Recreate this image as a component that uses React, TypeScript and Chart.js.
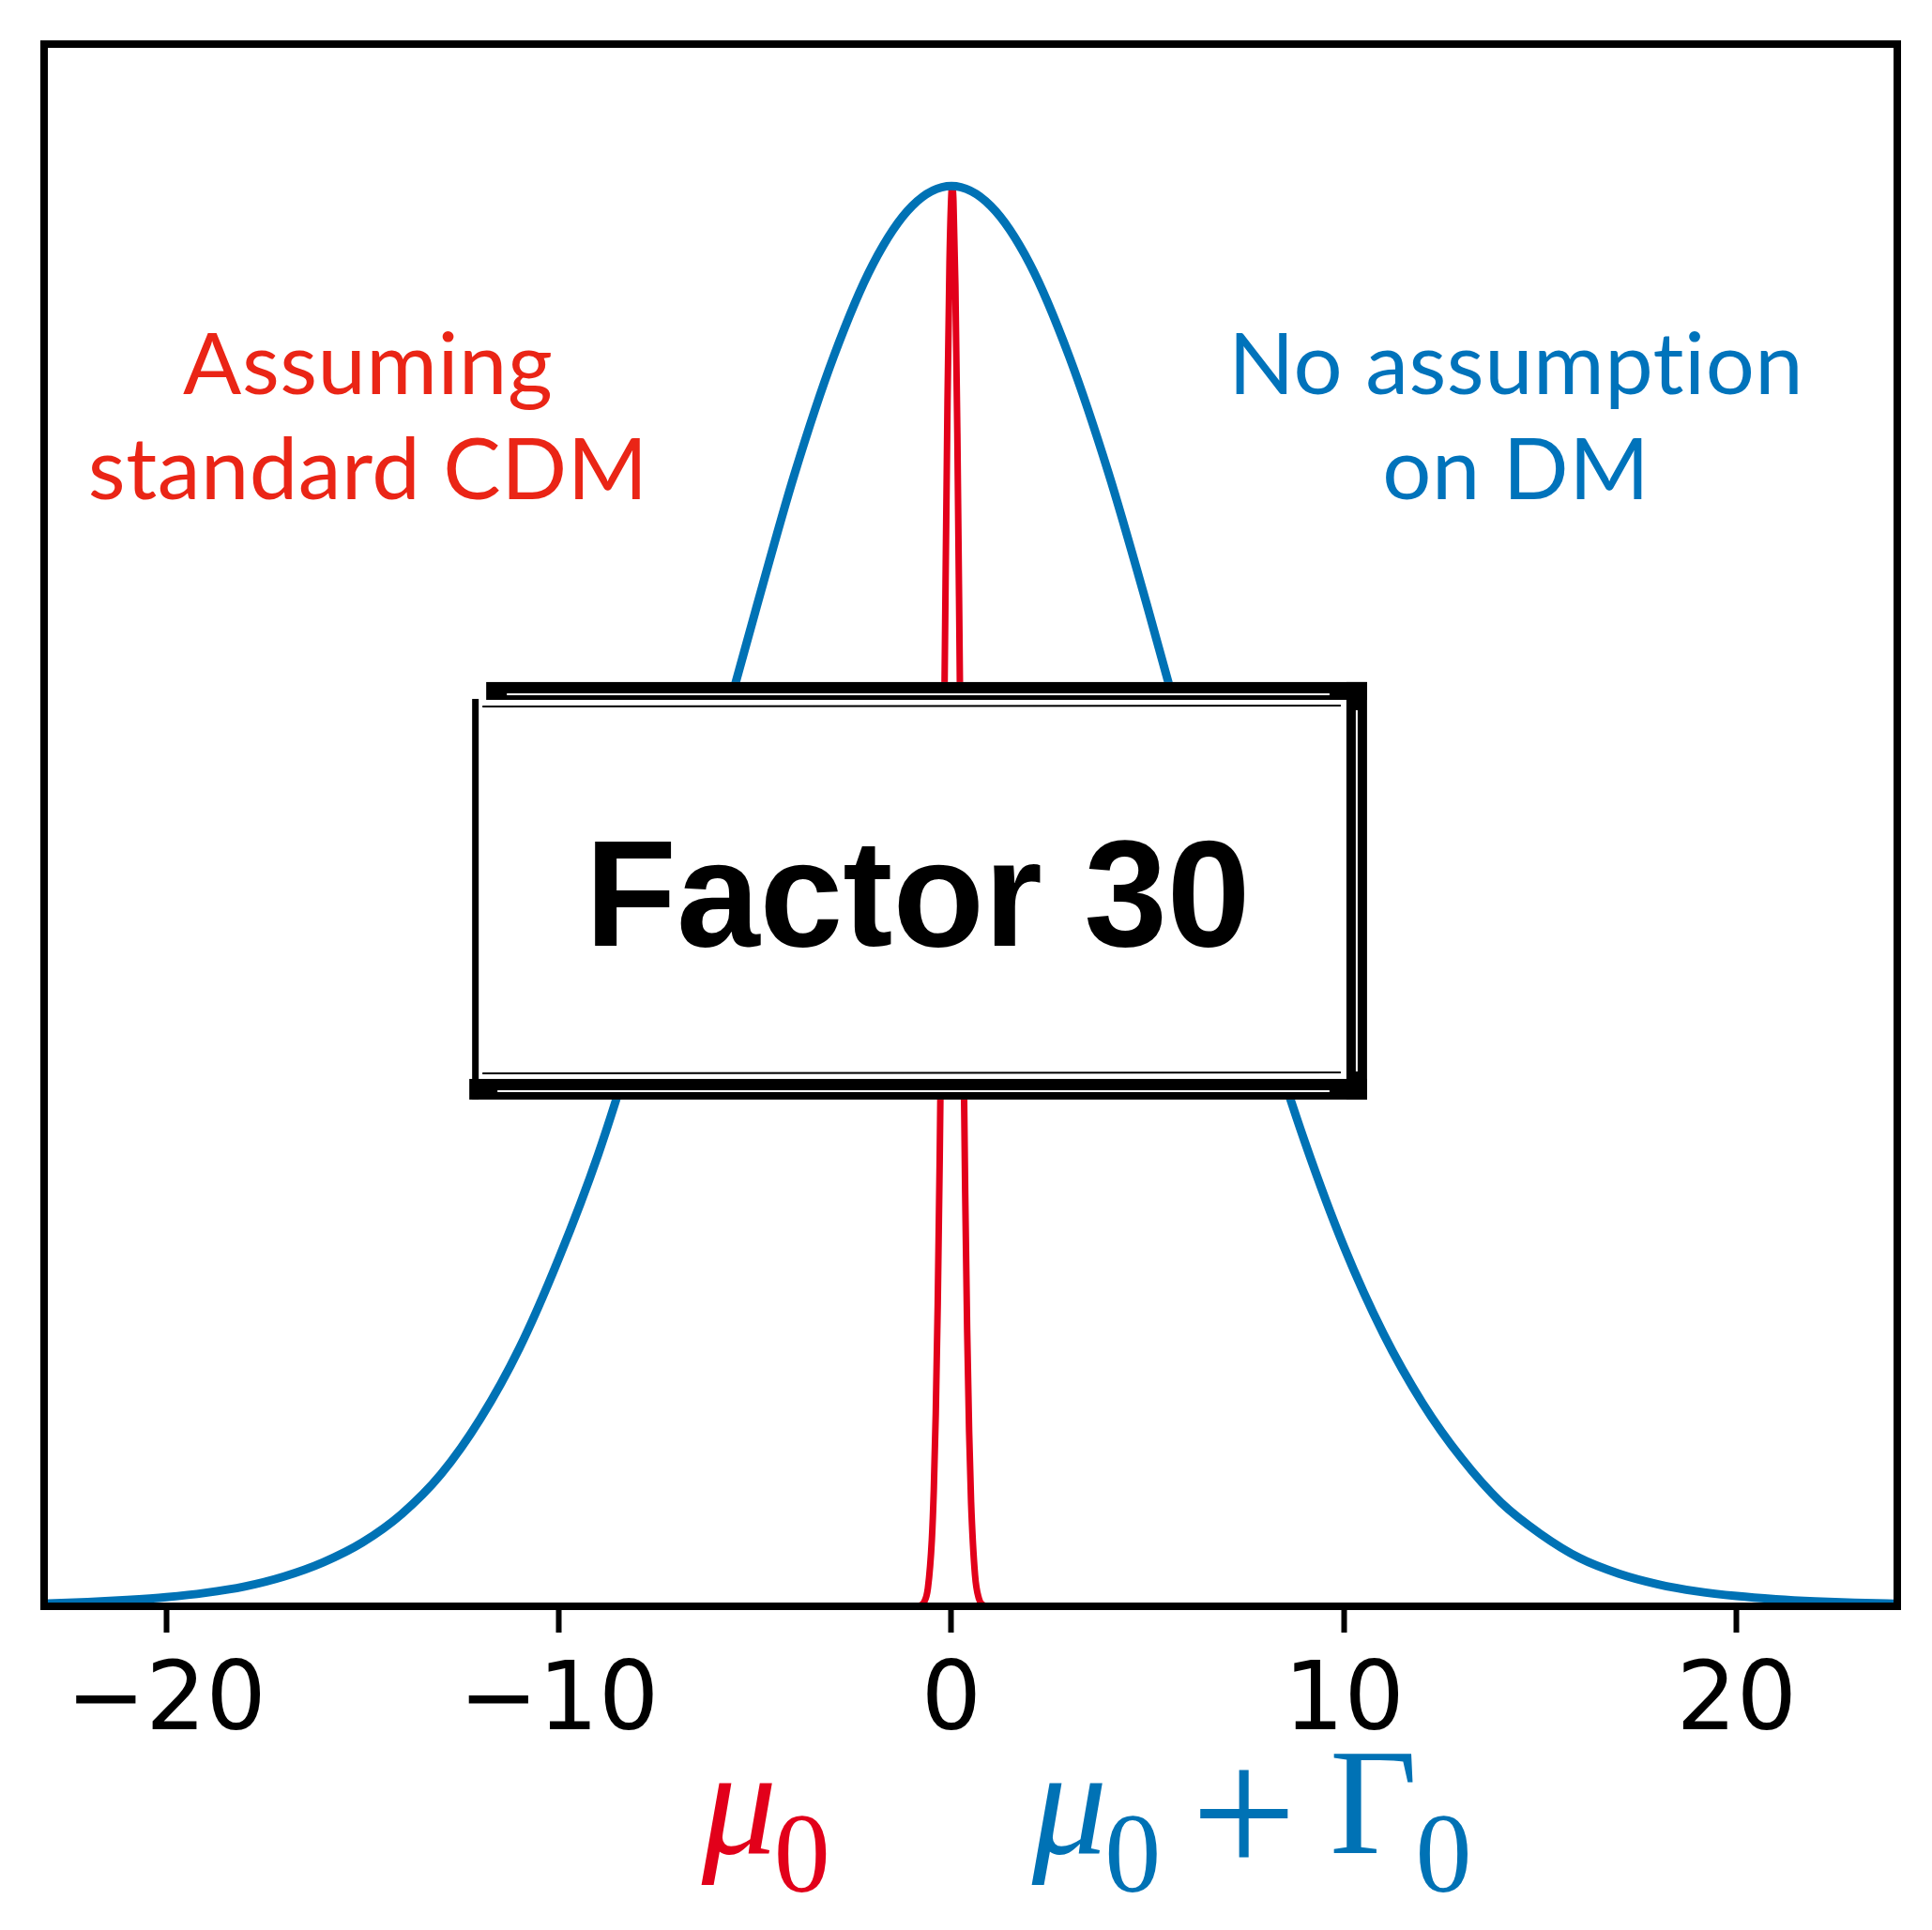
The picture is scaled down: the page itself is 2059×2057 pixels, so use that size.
import React, { useEffect, useRef } from "react";
import { Chart, registerables } from "chart.js";

Chart.register(...registerables);

// ---- data ----
const blueX = [-24, -23, -22, -21, -20, -19, -18, -17, -16, -15, -14, -13, -12, -11, -10, -9, -8, -7, -6, -5, -4, -3, -2, -1, 0, 1, 2, 3, 4, 5, 6, 7, 8, 9, 10, 11, 12, 13, 14, 15, 16, 17, 18, 19, 20, 21, 22, 23, 24, 25];
const blueY = [0.0015, 0.002, 0.003, 0.0045, 0.0065, 0.0095, 0.014, 0.021, 0.031, 0.045, 0.065, 0.093, 0.132, 0.182, 0.245, 0.318, 0.405, 0.5, 0.6, 0.7, 0.797, 0.88, 0.945, 0.986, 1.0, 0.986, 0.945, 0.88, 0.798, 0.703, 0.603, 0.505, 0.412, 0.327, 0.253, 0.192, 0.143, 0.104, 0.073, 0.051, 0.034, 0.023, 0.0155, 0.0105, 0.0072, 0.005, 0.0035, 0.0025, 0.0018, 0.0012];

const redX = [-1.0, -0.9, -0.8, -0.7, -0.6, -0.5, -0.45, -0.4, -0.35, -0.3, -0.25, -0.2, -0.15, -0.1, -0.05, 0.0, 0.02, 0.05, 0.1, 0.15, 0.2, 0.25, 0.3, 0.35, 0.4, 0.45, 0.5, 0.6, 0.7, 0.8, 0.9, 1.0];
const redY = [0.0, 0.0001, 0.0005, 0.0028, 0.0128, 0.0466, 0.0817, 0.1353, 0.2118, 0.3132, 0.4376, 0.5776, 0.7206, 0.8494, 0.946, 0.9955, 1.0, 0.9898, 0.93, 0.8256, 0.6926, 0.5489, 0.4111, 0.2909, 0.1945, 0.1229, 0.0734, 0.0221, 0.0053, 0.001, 0.0002, 0.0];

const xTickValues = [-20, -10, 0, 10, 20];
const xTickLabels = ["\u221220", "\u221210", "0", "10", "20"];

const leftNote = ["Assuming", "standard CDM"];
const rightNote = ["No assumption", "on DM"];
const boxLabel = "Factor 30";

const X_MIN = -23.11;
const X_MAX = 24.09;
const Y_MIN = 0;
const Y_MAX = 1.1;

// ---- styles ----
const BLUE = "#0072b5";
const RED = "#e2001a";
const RED_TEXT = "#ea2516";
const BLUE_TEXT = "#0073bb";
const W = 2059;
const H = 2057;

const overlayPlugin = {
  id: "overlay",
  afterDatasetsDraw(chart: any) {
    const { ctx, chartArea: a, scales } = chart;
    const x = scales.x;
    const y = scales.y;
    ctx.save();

    // frame
    ctx.strokeStyle = "#000";
    ctx.lineWidth = 8;
    ctx.strokeRect(a.left, a.top, a.right - a.left, a.bottom - a.top);

    // notes
    ctx.textAlign = "center";
    ctx.textBaseline = "alphabetic";
    ctx.font = "400 92px Lato";
    try {
      (ctx as any).letterSpacing = "0.5px";
    } catch (e) {}
    ctx.fillStyle = RED_TEXT;
    ctx.fillText(leftNote[0], x.getPixelForValue(-14.86), y.getPixelForValue(0.8536));
    ctx.fillText(leftNote[1], x.getPixelForValue(-14.86), y.getPixelForValue(0.7796));
    ctx.fillStyle = BLUE_TEXT;
    ctx.fillText(rightNote[0], x.getPixelForValue(14.38), y.getPixelForValue(0.8536));
    ctx.fillText(rightNote[1], x.getPixelForValue(14.38), y.getPixelForValue(0.7796));
    try {
      (ctx as any).letterSpacing = "0px";
    } catch (e) {}

    // box
    const bl = x.getPixelForValue(-12.28);
    const br = x.getPixelForValue(10.585);
    const bt = y.getPixelForValue(0.6508);
    const bb = y.getPixelForValue(0.3568);
    ctx.fillStyle = "#fff";
    ctx.fillRect(bl, bt, br - bl, bb - bt);
    ctx.fillStyle = "#000";
    // thick top / right / bottom bands, thin left
    ctx.fillRect(bl + 18, bt, br - bl - 18, 19);
    ctx.fillRect(br - 22, bt, 22, bb - bt);
    ctx.fillRect(bl, bb - 22, br - bl, 22);
    ctx.fillRect(bl + 3, bt + 18, 7, bb - bt - 18);
    // rough double-line look
    ctx.fillStyle = "#fff";
    ctx.fillRect(bl + 40, bt + 12, br - bl - 80, 2);
    ctx.fillRect(br - 12, bt + 30, 2, bb - bt - 60);
    ctx.fillRect(bl + 30, bb - 10, br - bl - 70, 2);
    ctx.strokeStyle = "#000";
    ctx.lineWidth = 2;
    ctx.beginPath();
    ctx.moveTo(bl + 14, bt + 26);
    ctx.lineTo(br - 28, bt + 25);
    ctx.moveTo(bl + 14, bb - 28);
    ctx.lineTo(br - 28, bb - 29);
    ctx.stroke();

    // box text
    ctx.fillStyle = "#000";
    ctx.font = "700 162px 'Liberation Sans', Arial, sans-serif";
    const tw = ctx.measureText(boxLabel).width;
    const target = 709;
    const cx = x.getPixelForValue(-0.86);
    const cy = y.getPixelForValue(0.4651);
    ctx.save();
    ctx.translate(cx, cy);
    ctx.scale(target / tw, 1);
    ctx.textAlign = "center";
    ctx.fillText(boxLabel, 0, 0);
    ctx.restore();

    // bottom math labels
    const base = a.bottom + 263;
    const subBase = a.bottom + 304;
    ctx.textAlign = "left";
    ctx.fillStyle = RED;
    ctx.font = "italic 160px 'Liberation Serif', serif";
    ctx.fillText("\u03bc", x.getPixelForValue(-6.36), base);
    ctx.font = "120px 'Liberation Serif', serif";
    ctx.fillText("0", x.getPixelForValue(-4.52), subBase);

    ctx.fillStyle = BLUE;
    ctx.font = "italic 160px 'Liberation Serif', serif";
    ctx.fillText("\u03bc", x.getPixelForValue(2.05), base);
    ctx.font = "120px 'Liberation Serif', serif";
    ctx.fillText("0", x.getPixelForValue(3.9), subBase);
    ctx.font = "200px 'Liberation Serif', serif";
    ctx.fillText("+", x.getPixelForValue(6.1), a.bottom + 287);
    ctx.font = "162px 'Liberation Serif', serif";
    ctx.fillText("\u0393", x.getPixelForValue(9.63), base);
    ctx.font = "120px 'Liberation Serif', serif";
    ctx.fillText("0", x.getPixelForValue(11.82), subBase);

    ctx.restore();
  },
};

export default function App() {
  const ref = useRef<HTMLCanvasElement | null>(null);

  useEffect(() => {
    if (!ref.current) return;
    const chart = new Chart(ref.current, {
      type: "line",
      data: {
        datasets: [
          {
            label: "No assumption on DM",
            data: blueX.map((v, i) => ({ x: v, y: blueY[i] })),
            borderColor: BLUE,
            borderWidth: 9,
            pointRadius: 0,
            fill: false,
            cubicInterpolationMode: "monotone",
          },
          {
            label: "Assuming standard CDM",
            data: redX.map((v, i) => ({ x: v, y: redY[i] })),
            borderColor: RED,
            borderWidth: 7,
            pointRadius: 0,
            fill: false,
            cubicInterpolationMode: "monotone",
          },
        ],
      },
      options: {
        animation: false,
        responsive: false,
        maintainAspectRatio: false,
        devicePixelRatio: 1,
        layout: { padding: { left: 47, top: 47, right: 37, bottom: 0 } },
        plugins: { legend: { display: false }, tooltip: { enabled: false } },
        scales: {
          x: {
            type: "linear",
            min: X_MIN,
            max: X_MAX,
            afterBuildTicks: (scale: any) => {
              scale.ticks = xTickValues.map((v) => ({ value: v }));
            },
            afterFit: (scale: any) => {
              scale.height = 345;
            },
            border: { display: false },
            grid: {
              drawOnChartArea: false,
              drawTicks: true,
              tickLength: 28,
              tickWidth: 6,
              tickColor: "#000",
            },
            ticks: {
              color: "#000",
              padding: 16,
              autoSkip: false,
              maxRotation: 0,
              font: { family: "'DejaVu Sans'", size: 101 },
              callback: (value: any) => {
                const i = xTickValues.indexOf(Number(value));
                return i >= 0 ? xTickLabels[i] : "";
              },
            },
          },
          y: {
            type: "linear",
            min: Y_MIN,
            max: Y_MAX,
            display: false,
          },
        },
      },
      plugins: [overlayPlugin],
    });
    return () => chart.destroy();
  }, []);

  return (
    <div style={{ position: "absolute", left: 0, top: 0, width: W, height: H, background: "#fff" }}>
      <canvas ref={ref} width={W} height={H} style={{ width: W, height: H, display: "block" }} />
    </div>
  );
}
